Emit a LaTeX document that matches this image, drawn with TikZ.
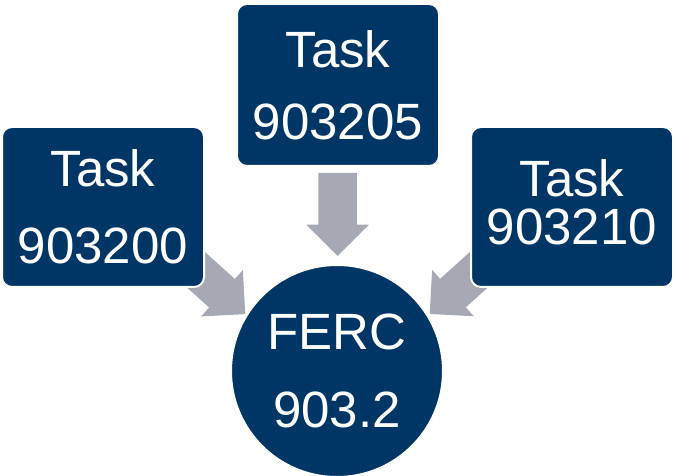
\documentclass[tikz,border=0pt]{standalone}
\usepackage{fontspec}
\setmainfont{Liberation Sans}
\usetikzlibrary{shapes.arrows,backgrounds}
\definecolor{navy}{RGB}{0,54,102}
\definecolor{arrowgray}{RGB}{166,169,179}
\begin{document}
\begin{tikzpicture}[x=1pt, y=1pt,
  task/.style={draw=white, line width=2pt, rounded corners=10pt, fill=navy,
               text=white, align=center, inner sep=0pt,
               minimum width=202pt, minimum height=160pt},
  goal/.style={circle, draw=white, line width=2pt, fill=navy, text=white,
               align=center, inner sep=0pt, minimum size=212pt},
  feed/.style={single arrow, fill=arrowgray, inner xsep=0pt, inner ysep=19pt,
               minimum height=83pt, minimum width=62pt,
               single arrow head extend=12pt, single arrow tip angle=90}
]
  \useasboundingbox (0,0) rectangle (673,476);

  \node[task, font=\fontsize{51}{77}\selectfont] (t200) at (103,269) {Task\\903200};
  \node[task, font=\fontsize{51}{72}\selectfont, minimum height=162pt] (t205) at (338,391) {Task\\903205};
  \node[task, font=\fontsize{51}{48}\selectfont] (t210) at (572,269) {Task\\903210\\[-38pt]};
  \node[goal, font=\fontsize{51}{78}\selectfont] (ferc) at (337,105) {FERC\\903.2};

  \begin{scope}[on background layer]
    \path (t200) -- node[feed, pos=0.05, rotate=-42] (a200) {} (ferc);
    \path (t205) -- node[feed, pos=0.39, rotate=-90] (a205) {} (ferc);
    \path (t210) -- node[feed, pos=0.05, rotate=-138] (a210) {} (ferc);
  \end{scope}
\end{tikzpicture}
\end{document}
